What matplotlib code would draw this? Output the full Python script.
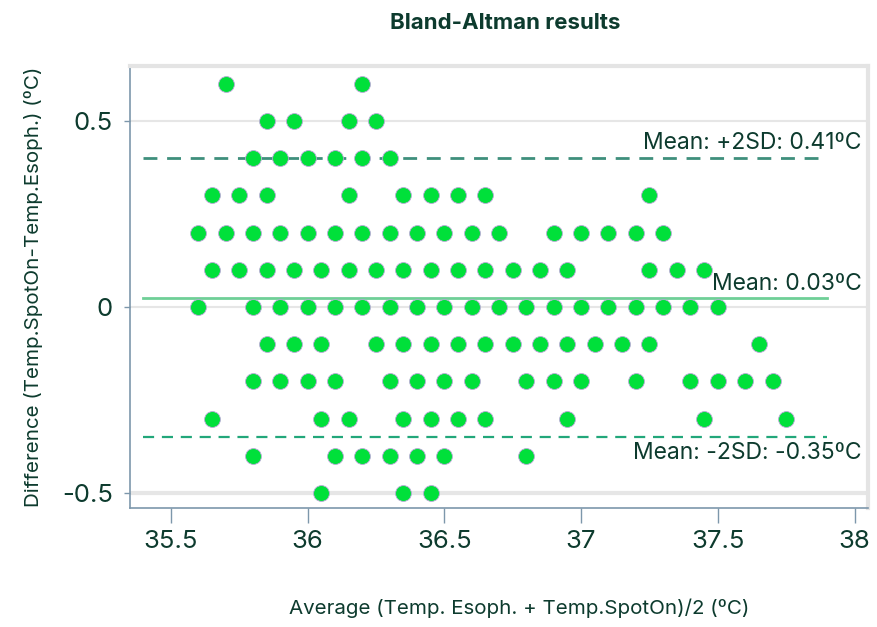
import matplotlib.pyplot as plt

# Bland-Altman data: differences (rows) and the averages found at each one
diff_levels = [0.6, 0.5, 0.4, 0.3, 0.2, 0.1, 0.0, -0.1, -0.2, -0.3, -0.4, -0.5]
avg_by_level = [
    [35.70, 36.20],
    [35.85, 35.95, 36.15, 36.25],
    [35.80, 35.90, 36.00, 36.10, 36.20, 36.30],
    [35.65, 35.75, 35.85, 36.15, 36.35, 36.45, 36.55, 36.65, 37.25],
    [35.60, 35.70, 35.80, 35.90, 36.00, 36.10, 36.20, 36.30, 36.40, 36.50,
     36.60, 36.70, 36.90, 37.00, 37.10, 37.20, 37.30],
    [35.65, 35.75, 35.85, 35.95, 36.05, 36.15, 36.25, 36.35, 36.45, 36.55,
     36.65, 36.75, 36.85, 36.95, 37.25, 37.35, 37.45],
    [35.60, 35.80, 35.90, 36.00, 36.10, 36.20, 36.30, 36.40, 36.50, 36.60,
     36.70, 36.80, 36.90, 37.00, 37.10, 37.20, 37.30, 37.40, 37.50],
    [35.85, 35.95, 36.05, 36.25, 36.35, 36.45, 36.55, 36.65, 36.75, 36.85,
     36.95, 37.05, 37.15, 37.25, 37.65],
    [35.80, 35.90, 36.00, 36.10, 36.30, 36.40, 36.50, 36.60, 36.80, 36.90,
     37.00, 37.20, 37.40, 37.50, 37.60, 37.70],
    [35.65, 36.05, 36.15, 36.35, 36.45, 36.55, 36.65, 36.95, 37.45, 37.75],
    [35.80, 36.10, 36.20, 36.30, 36.40, 36.50, 36.80],
    [36.05, 36.35, 36.45],
]

mean_diff = 0.025
upper_loa = 0.40
lower_loa = -0.35
line_span = [35.4, 37.9]

labels = ["Mean: +2SD: 0.41ºC", "Mean: 0.03ºC", "Mean: -2SD: -0.35ºC"]
xticks = [35.5, 36, 36.5, 37, 37.5, 38]
xtick_labels = ["35.5", "36", "36.5", "37", "37.5", "38"]
yticks = [0.5, 0, -0.5]
ytick_labels = ["0.5", "0", "-0.5"]

text_col = "#0d3b2e"
spine_col = "#7d97ab"

plt.rcParams['font.family'] = ['Inter', 'DejaVu Sans']

fig = plt.figure(figsize=(8.77, 6.27), dpi=100)
ax = fig.add_axes([0.148, 0.190, 0.842, 0.705])

# grid lines
for y in yticks:
    ax.axhline(y, color="#e6e6e6", lw=1.5 if y != -0.5 else 3, zorder=0)

# limit of agreement lines
ax.plot(line_span, [upper_loa, upper_loa], color="#3f8f7c", lw=2, dashes=(5, 3.5), zorder=1)
ax.plot(line_span, [mean_diff, mean_diff], color="#6fcf97", lw=2, zorder=1)
ax.plot(line_span, [lower_loa, lower_loa], color="#22a77a", lw=1.6, dashes=(5, 3.5), zorder=1)

# points
for d, avgs in zip(diff_levels, avg_by_level):
    ax.scatter(avgs, [d] * len(avgs), s=130, color="#00e03a",
               edgecolors="#b9a8d8", linewidths=0.6, zorder=3)

ax.text(38.025, upper_loa + 0.012, labels[0], ha="right", va="bottom",
        fontsize=16.5, color=text_col)
ax.text(38.025, mean_diff + 0.008, labels[1], ha="right", va="bottom",
        fontsize=16.5, color=text_col)
ax.text(38.025, lower_loa - 0.012, labels[2], ha="right", va="top",
        fontsize=16.5, color=text_col)

ax.set_xlim(35.35, 38.05)
ax.set_ylim(-0.54, 0.648)
ax.set_xticks(xticks)
ax.set_xticklabels(xtick_labels)
ax.set_yticks(yticks)
ax.set_yticklabels(ytick_labels)
ax.tick_params(axis="x", direction="out", length=11, width=1, color=spine_col,
               labelsize=18.5, labelcolor=text_col, pad=5)
ax.tick_params(axis="y", direction="out", length=4, width=1, color=spine_col,
               labelsize=18.5, labelcolor=text_col, pad=8)

for side in ["left", "bottom"]:
    ax.spines[side].set_color(spine_col)
    ax.spines[side].set_linewidth(1.2)
for side in ["top", "right"]:
    ax.spines[side].set_color("#e4e4e4")
    ax.spines[side].set_linewidth(3)

ax.set_xlabel("Average (Temp. Esoph. + Temp.SpotOn)/2 (ºC)", fontsize=14.8,
              color=text_col, va="center")
ax.xaxis.set_label_coords(0.527, -0.226)
ax.set_ylabel("Difference (Temp.SpotOn-Temp.Esoph.) (ºC)", fontsize=14.8,
              color=text_col, labelpad=14)
fig.text(0.576, 0.963, "Bland-Altman results", ha="center", va="center",
         fontsize=16, fontweight="bold", color=text_col)

fig.savefig("out.png", dpi=100)
